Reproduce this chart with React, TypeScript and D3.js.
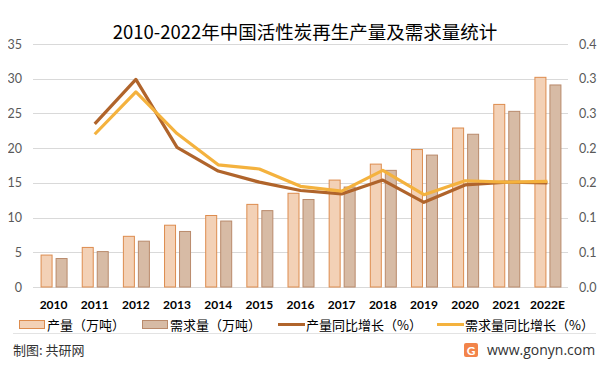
import * as d3 from 'd3';
import React, { useEffect, useRef } from 'react';

const years = ['2010', '2011', '2012', '2013', '2014', '2015', '2016', '2017', '2018', '2019', '2020', '2021', '2022E'];
const production = [4.6, 5.7, 7.3, 8.9, 10.3, 11.9, 13.5, 15.4, 17.7, 19.8, 22.9, 26.3, 30.2];
const demand = [4.1, 5.1, 6.6, 8.0, 9.5, 11.0, 12.6, 14.4, 16.8, 19.0, 22.0, 25.3, 29.1];
const prodGrowth = [null, 0.235, 0.299, 0.201, 0.167, 0.151, 0.139, 0.134, 0.154, 0.122, 0.147, 0.151, 0.15];
const demandGrowth = [null, 0.22, 0.281, 0.221, 0.176, 0.17, 0.145, 0.138, 0.168, 0.133, 0.153, 0.151, 0.152];
const leftTicks = [0, 5, 10, 15, 20, 25, 30, 35];
const rightTicks = [0, 0.05, 0.1, 0.15, 0.2, 0.25, 0.3, 0.35];
const rightTickLabels = ['0.0', '0.1', '0.1', '0.2', '0.2', '0.3', '0.3', '0.4'];

const W = 614;
const H = 370;
const cjk = '"Noto Sans CJK SC", "Noto Sans", sans-serif';
const num = 'Lato, "Open Sans", sans-serif';

function App() {
  const svgRef = useRef<SVGSVGElement>(null);

  useEffect(() => {
    const svg = d3.select(svgRef.current);
    svg.selectAll('*').remove();

    const left = 33;
    const right = 568;
    const top = 44;
    const bottom = 287;

    const x = d3.scaleBand<string>().domain(years).range([left, right]);
    const yL = d3.scaleLinear().domain([0, 35]).range([bottom, top]);
    const yR = d3.scaleLinear().domain([0, 0.35]).range([bottom, top]);

    // outer frame
    svg
      .append('rect')
      .attr('x', 3.5)
      .attr('y', 3.5)
      .attr('width', W - 7)
      .attr('height', H - 8)
      .attr('fill', '#fff')
      .attr('stroke', '#d9d9d9');

    svg
      .append('text')
      .attr('x', 305)
      .attr('y', 39)
      .attr('text-anchor', 'middle')
      .style('font-family', cjk)
      .style('font-size', '18.5px')
      .attr('fill', '#000')
      .text('2010-2022年中国活性炭再生产量及需求量统计');

    // grid
    svg
      .append('g')
      .selectAll('line')
      .data(leftTicks)
      .join('line')
      .attr('x1', left)
      .attr('x2', right)
      .attr('y1', (d) => Math.round(yL(d)) + 0.5)
      .attr('y2', (d) => Math.round(yL(d)) + 0.5)
      .attr('stroke', '#d9d9d9');

    svg
      .append('g')
      .selectAll('text')
      .data(leftTicks)
      .join('text')
      .attr('x', 22)
      .attr('y', (d) => yL(d) + 4.5)
      .attr('text-anchor', 'end')
      .style('font-family', num)
      .style('font-size', '12.5px')
      .attr('fill', '#595959')
      .text((d) => d);

    svg
      .append('g')
      .selectAll('text')
      .data(rightTicks)
      .join('text')
      .attr('x', 579)
      .attr('y', (d) => yR(d) + 4.5)
      .style('font-family', num)
      .style('font-size', '12.5px')
      .attr('fill', '#595959')
      .text((d, i) => rightTickLabels[i]);

    const bw = 12;
    const band = x.bandwidth();

    svg
      .append('g')
      .selectAll('rect')
      .data(production)
      .join('rect')
      .attr('x', (d, i) => (x(years[i]) as number) + band / 2 - 13 + 0.5)
      .attr('y', (d) => yL(d))
      .attr('width', bw - 1)
      .attr('height', (d) => bottom - yL(d))
      .attr('fill', '#F3D1B6')
      .attr('stroke', '#DD8C4E')
      .attr('stroke-width', 1);

    svg
      .append('g')
      .selectAll('rect')
      .data(demand)
      .join('rect')
      .attr('x', (d, i) => (x(years[i]) as number) + band / 2 + 2 + 0.5)
      .attr('y', (d) => yL(d))
      .attr('width', bw - 1)
      .attr('height', (d) => bottom - yL(d))
      .attr('fill', '#D7BBA5')
      .attr('stroke', '#B98A6B')
      .attr('stroke-width', 1);

    const line = d3
      .line<number | null>()
      .defined((d) => d !== null)
      .x((d, i) => (x(years[i]) as number) + band / 2)
      .y((d) => yR(d as number));

    svg
      .append('path')
      .attr('d', line(prodGrowth))
      .attr('fill', 'none')
      .attr('stroke', '#B0642B')
      .attr('stroke-width', 3.2)
      .attr('stroke-linejoin', 'round');

    svg
      .append('path')
      .attr('d', line(demandGrowth))
      .attr('fill', 'none')
      .attr('stroke', '#F4B23E')
      .attr('stroke-width', 3.2)
      .attr('stroke-linejoin', 'round');

    svg
      .append('g')
      .selectAll('text')
      .data(years)
      .join('text')
      .attr('x', (d) => (x(d) as number) + band / 2)
      .attr('y', 309)
      .attr('text-anchor', 'middle')
      .style('font-family', num)
      .style('font-size', '12px')
      .style('font-weight', 'bold')
      .attr('fill', '#000')
      .text((d) => d);

    // legend
    const lg = svg.append('g').style('font-family', cjk).style('font-size', '13px').attr('fill', '#000');
    lg.append('rect').attr('x', 19.5).attr('y', 320.5).attr('width', 25).attr('height', 8).attr('fill', '#F3D1B6').attr('stroke', '#DD8C4E');
    lg.append('text').attr('x', 47).attr('y', 330).text('产量（万吨）');
    lg.append('rect').attr('x', 142.5).attr('y', 320.5).attr('width', 25).attr('height', 8).attr('fill', '#D7BBA5').attr('stroke', '#B98A6B');
    lg.append('text').attr('x', 170).attr('y', 330).text('需求量（万吨）');
    lg.append('line').attr('x1', 278).attr('x2', 305).attr('y1', 324.5).attr('y2', 324.5).attr('stroke', '#B0642B').attr('stroke-width', 3);
    lg.append('text').attr('x', 306).attr('y', 330).text('产量同比增长（%）');
    lg.append('line').attr('x1', 437).attr('x2', 464).attr('y1', 324.5).attr('y2', 324.5).attr('stroke', '#F4B23E').attr('stroke-width', 3);
    lg.append('text').attr('x', 465).attr('y', 330).text('需求量同比增长（%）');

    svg.append('line').attr('x1', 13).attr('x2', 596).attr('y1', 333.5).attr('y2', 333.5).attr('stroke', '#e3e3e3');

    svg
      .append('text')
      .attr('x', 13)
      .attr('y', 355)
      .style('font-family', cjk)
      .style('font-size', '13px')
      .attr('fill', '#333')
      .text('制图: 共研网');

    // logo
    const logo = svg.append('g');
    logo.append('rect').attr('x', 464).attr('y', 343).attr('width', 14).attr('height', 14).attr('rx', 2).attr('fill', '#F2844A');
    logo
      .append('text')
      .attr('x', 471)
      .attr('y', 355)
      .attr('text-anchor', 'middle')
      .style('font-family', num)
      .style('font-size', '12px')
      .style('font-weight', 'bold')
      .attr('fill', '#fff')
      .text('G');

    svg
      .append('text')
      .attr('x', 487)
      .attr('y', 355)
      .style('font-family', '"Open Sans", sans-serif')
      .style('font-size', '14px')
      .attr('fill', '#333')
      .text('www.gonyn.com');
  }, []);

  return (
    <div style={{ margin: -8 }}>
      <svg ref={svgRef} width={W} height={H} style={{ display: 'block' }} />
    </div>
  );
}

export default App;
